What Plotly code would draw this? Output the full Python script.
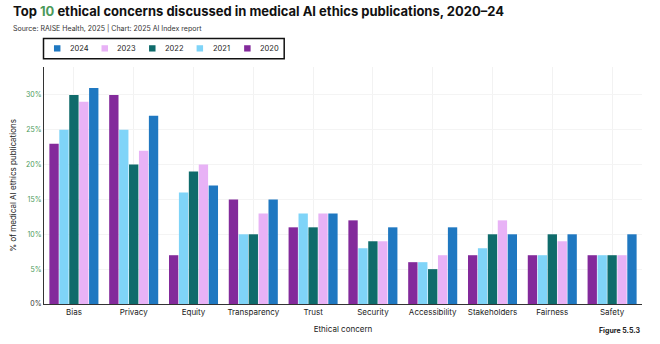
import plotly.graph_objects as go

categories = ["Bias", "Privacy", "Equity", "Transparency", "Trust", "Security",
              "Accessibility", "Stakeholders", "Fairness", "Safety"]
v2020 = [23, 30, 7, 15, 11, 12, 6, 7, 7, 7]
v2021 = [25, 25, 16, 10, 13, 8, 6, 8, 7, 7]
v2022 = [30, 20, 19, 10, 11, 9, 5, 10, 10, 7]
v2023 = [29, 22, 20, 13, 13, 9, 7, 12, 9, 7]
v2024 = [31, 27, 17, 15, 13, 11, 11, 10, 10, 10]
years = ["2020", "2021", "2022", "2023", "2024"]
colors = ["#832a9b", "#7fd4f8", "#0f6b6b", "#e8b2f6", "#1f78c1"]
series = [v2020, v2021, v2022, v2023, v2024]
tick_vals = [0, 5, 10, 15, 20, 25, 30]

W, H = 660, 344
ML, MR, MT, MB = 42, 18, 67, 32
PW, PH = W - ML - MR, H - MT - MB


def px(x):
    return (x - ML) / PW


def py(y):
    return 1 + (MT - y) / PH


fig = go.Figure()
for name, vals, col in zip(years, series, colors):
    fig.add_trace(go.Bar(x=categories, y=vals, name=name, marker_color=col,
                         marker_line_width=0, showlegend=False))

ticktext = ["<span style='color:#333'>0%</span>"] + \
    [f"<span style='color:#4c9a5a'>{v}%</span>" for v in tick_vals[1:]]

fig.update_layout(
    width=W, height=H,
    margin=dict(l=ML, r=MR, t=MT, b=MB),
    paper_bgcolor="white", plot_bgcolor="white",
    font=dict(family="Inter, sans-serif", size=8, color="#222"),
    barmode="group", bargap=0.17, bargroupgap=0.06,
    showlegend=False,
    xaxis=dict(showline=True, linecolor="#333", linewidth=1,
               showgrid=True, gridcolor="#f2f2f2", ticks="",
               tickfont=dict(size=8, color="#222"),
               title=dict(text="Ethical concern", font=dict(size=8), standoff=10)),
    yaxis=dict(range=[0, 34], showline=True, linecolor="#333", linewidth=1,
               showgrid=True, gridcolor="#f4f4f4", zeroline=False,
               tickvals=tick_vals, ticktext=ticktext,
               tickfont=dict(size=7),
               title=dict(text="% of medical AI ethics publications",
                          font=dict(size=8), standoff=8)),
)

# custom legend box (order 2024 -> 2020)
fig.add_shape(type="rect", xref="paper", yref="paper",
              x0=px(41.5), x1=px(283), y0=py(37.5), y1=py(58.5),
              line=dict(color="#111", width=1.5), fillcolor="white")
leg_x0 = 52
step = 47.7
for i, (name, col) in enumerate(zip(years[::-1], colors[::-1])):
    sx = leg_x0 + i * step
    fig.add_shape(type="rect", xref="paper", yref="paper",
                  x0=px(sx), x1=px(sx + 6.5), y0=py(44.5), y1=py(51),
                  line=dict(width=0), fillcolor=col)
    fig.add_annotation(xref="paper", yref="paper", x=px(sx + 14), y=py(48),
                       xanchor="left", yanchor="middle", showarrow=False,
                       text=name, font=dict(size=7.5, color="#222"))

fig.add_annotation(xref="paper", yref="paper", x=-0.055, y=1.196,
                   xanchor="left", yanchor="bottom", showarrow=False,
                   text="<b>Top <span style='color:#4c9a5a'>10</span> ethical concerns discussed in medical AI ethics publications, 2020–24</b>",
                   font=dict(size=13, color="#111"))
fig.add_annotation(xref="paper", yref="paper", x=-0.055, y=1.188,
                   xanchor="left", yanchor="top", showarrow=False,
                   text="Source: RAISE Health, 2025 | Chart: 2025 AI Index report",
                   font=dict(size=7, color="#333"))
fig.add_annotation(xref="paper", yref="paper", x=1.0, y=-0.085,
                   xanchor="right", yanchor="top", showarrow=False,
                   text="<b>Figure 5.5.3</b>",
                   font=dict(size=7, color="#222"))

fig.write_html("out.html")
